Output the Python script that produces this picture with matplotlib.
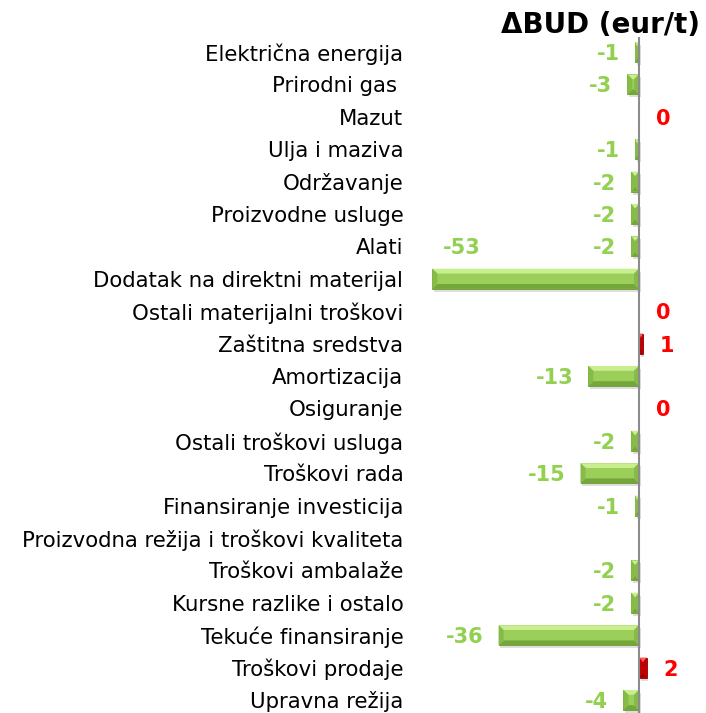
import numpy as np
import matplotlib.pyplot as plt
from matplotlib.patches import Polygon

# data
categories = ["Električna energija", "Prirodni gas ", "Mazut", "Ulja i maziva",
              "Održavanje", "Proizvodne usluge", "Alati",
              "Dodatak na direktni materijal", "Ostali materijalni troškovi",
              "Zaštitna sredstva", "Amortizacija", "Osiguranje",
              "Ostali troškovi usluga", "Troškovi rada", "Finansiranje investicija",
              "Proizvodna režija i troškovi kvaliteta", "Troškovi ambalaže",
              "Kursne razlike i ostalo", "Tekuće finansiranje", "Troškovi prodaje",
              "Upravna režija"]
values = [-1, -3, 0, -1, -2, -2, -2, -53, 0, 1, -13, 0, -2, -15, -1,
          np.nan, -2, -2, -36, 2, -4]
title = "ΔBUD (eur/t)"

W, H = 706, 713
fig = plt.figure(figsize=(W / 100, H / 100), dpi=100)

# axes placed in pixels: zero line at x=639, rows from y=52 to y=700
ax_l, ax_r, ax_t, ax_b = 420, 706, 37, 713
ax = fig.add_axes([ax_l / W, 1 - ax_b / H, (ax_r - ax_l) / W, (ax_b - ax_t) / H])
pxu = 3.9  # pixels per unit
x0 = 639
ax.set_xlim(-(x0 - ax_l) / pxu, (ax_r - x0) / pxu)
row0, step = 52, 32.4
ax.set_ylim(20 + (ax_b - 700) / step, -(row0 - ax_t) / step)

y = np.arange(len(categories))
vals = np.array(values, dtype=float)
h = 0.62

green = dict(face="#9bcf5a", top="#c8ee8e", bot="#74a63a", side="#86bb48", edge="#6a9a32")
red = dict(face="#dc0000", top="#ff5a5a", bot="#9a0000", side="#c00000", edge="#900000")

for yi, v in zip(y, vals):
    if np.isnan(v) or v == 0:
        continue
    c = green if v < 0 else red
    # soft shadow
    ax.barh(yi + 0.09, v, height=h, left=0.4, color="#000000", alpha=0.13,
            linewidth=0, zorder=1)
    ax.barh(yi, v, height=h, color=c["face"], edgecolor=c["edge"], linewidth=0.6, zorder=2)
    # bevel
    a, b = min(v, 0), max(v, 0)
    t, bt = yi - h / 2, yi + h / 2
    by = h * 0.24
    bx = min(5 / pxu, (b - a) / 2)
    ax.add_patch(Polygon([(a, t), (b, t), (b - bx, t + by), (a + bx, t + by)],
                         closed=True, color=c["top"], linewidth=0, zorder=3))
    ax.add_patch(Polygon([(a, bt), (b, bt), (b - bx, bt - by), (a + bx, bt - by)],
                         closed=True, color=c["bot"], linewidth=0, zorder=3))
    ax.add_patch(Polygon([(a, t), (a + bx, t + by), (a + bx, bt - by), (a, bt)],
                         closed=True, color=c["side"], linewidth=0, zorder=3))
    ax.add_patch(Polygon([(b, t), (b - bx, t + by), (b - bx, bt - by), (b, bt)],
                         closed=True, color=c["side"], linewidth=0, zorder=3))

ax.axvline(0, color="#8c8c8c", linewidth=1.5, zorder=4)

# value labels
off = 15 / pxu
for yi, v in zip(y, vals):
    if np.isnan(v):
        continue
    if v < 0:
        if v < -50:
            ax.text(v + 11 / pxu, yi - 1 + 0.06, f"{v:.0f}", ha="left", va="center",
                    color="#92d050", fontsize=15, fontweight="bold")
        else:
            ax.text(v - off, yi + 0.06, f"{v:.0f}", ha="right", va="center",
                    color="#92d050", fontsize=15, fontweight="bold")
    else:
        ax.text(v + 17 / pxu, yi + 0.06, f"{v:.0f}", ha="left", va="center",
                color="#ff0000", fontsize=15, fontweight="bold")

ax.set_yticks(y)
ax.set_yticklabels(categories, fontsize=15.3, color="#000000")
ax.tick_params(axis="y", length=0, pad=12)
ax.set_xticks([])
for s in ax.spines.values():
    s.set_visible(False)

fig.text(700 / W, 1 - 25 / H, title, ha="right", va="center",
         fontsize=20, fontweight="bold")

fig.savefig("out.png", dpi=100)
